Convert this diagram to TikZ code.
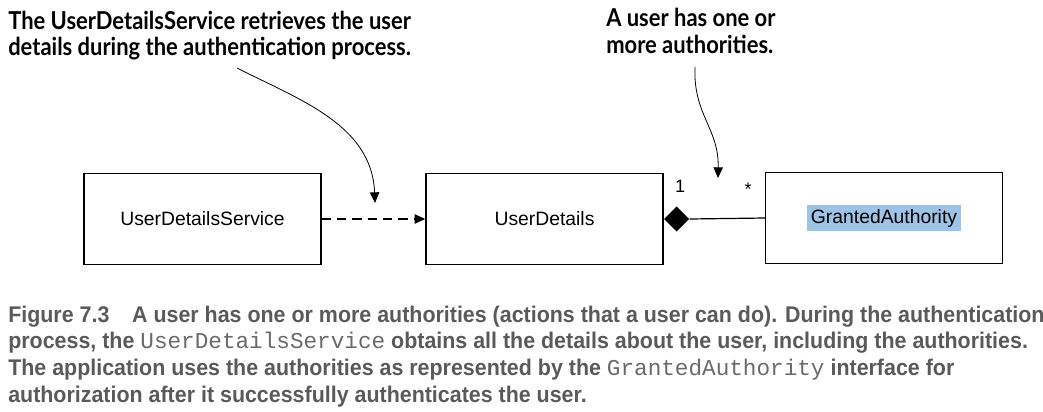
\documentclass[tikz,border=0pt]{standalone}
\usepackage{fontspec}
\setmainfont{Liberation Sans}
\newfontfamily\notefont[FakeStretch=0.89]{Lato}
\newfontfamily\capfont[FakeStretch=0.945]{Liberation Sans}
\newfontfamily\codefont{Liberation Mono}
\usetikzlibrary{arrows.meta,shapes.geometric}
\definecolor{capgray}{HTML}{5A5A5A}
\definecolor{codegray}{HTML}{6A6A6A}
\definecolor{hilite}{HTML}{9DC3E6}

\begin{document}
\begin{tikzpicture}[x=0.75pt, y=-0.75pt,
  box/.style={draw, line width=1pt, minimum width=177.75pt, minimum height=68.5pt,
    font=\fontsize{14.5}{17}\selectfont},
  note/.style={anchor=base west, inner sep=0pt, font=\notefont\bfseries\fontsize{18.5}{22}\selectfont},
  capline/.style={anchor=base west, inner sep=0pt, text=capgray,
    font=\capfont\bfseries\fontsize{17}{20}\selectfont},
  mult/.style={font=\fontsize{13.5}{16}\selectfont, inner sep=1pt},
  callout/.style={line width=0.6pt, -{Triangle[length=8pt, width=7pt]}}]
  \useasboundingbox (0,0) rectangle (1043,411);

  % the three classes
  \node[box] (uds) at (202.5,219) {UserDetailsService};
  \node[box] (ud)  at (544.5,219) {UserDetails};
  \node[box] (ga)  at (884,218)   {\colorbox{hilite}{GrantedAuthority}};

  % dependency: UserDetailsService uses UserDetails
  \draw[line width=0.9pt, dash pattern=on 7pt off 4.5pt,
        -{Triangle[length=8pt, width=7pt]}] (uds.east) -- (ud.west);

  % composition: one UserDetails, many GrantedAuthority
  \node[diamond, fill=black, inner sep=0pt, minimum width=19pt, minimum height=19pt,
        anchor=west] (dia) at (ud.east) {};
  \draw[line width=0.9pt] (dia.east) -- (ga.west);
  \node[mult] (one)  at (680,186) {1};
  \node[mult] (many) at (748,189) {*};

  % callout texts
  \node[note] (n1a) at (8,29) {The UserDetailsService retrieves the user};
  \node[note] (n1b) at (8,55) {details during the authentication process.};
  \node[note] (n2a) at (606,26) {A user has one or};
  \node[note] (n2b) at (606,53) {more authorities.};

  % callout arrows
  \coordinate (t1) at (237,68);
  \coordinate (h1) at (375,203);
  \coordinate (t2) at (695,67);
  \coordinate (h2) at (718,178);
  \draw[callout] (t1) .. controls (300,100) and (372,125) .. (h1);
  \draw[callout] (t2) .. controls (693,115) and (719,128) .. (h2);

  % figure caption
  \node[capline] (c1) at (8,322) {Figure 7.3\hspace{17pt}A user has one or more authorities (actions that a user can do). During the authentication};
  \node[capline] (c2) at (8,348) {process, the {\codefont\mdseries\color{codegray}UserDetailsService} obtains all the details about the user, including the authorities.};
  \node[capline] (c3) at (8,375) {The application uses the authorities as represented by the {\codefont\mdseries\color{codegray}GrantedAuthority} interface for};
  \node[capline] (c4) at (8,402) {authorization after it successfully authenticates the user.};
\end{tikzpicture}
\end{document}
